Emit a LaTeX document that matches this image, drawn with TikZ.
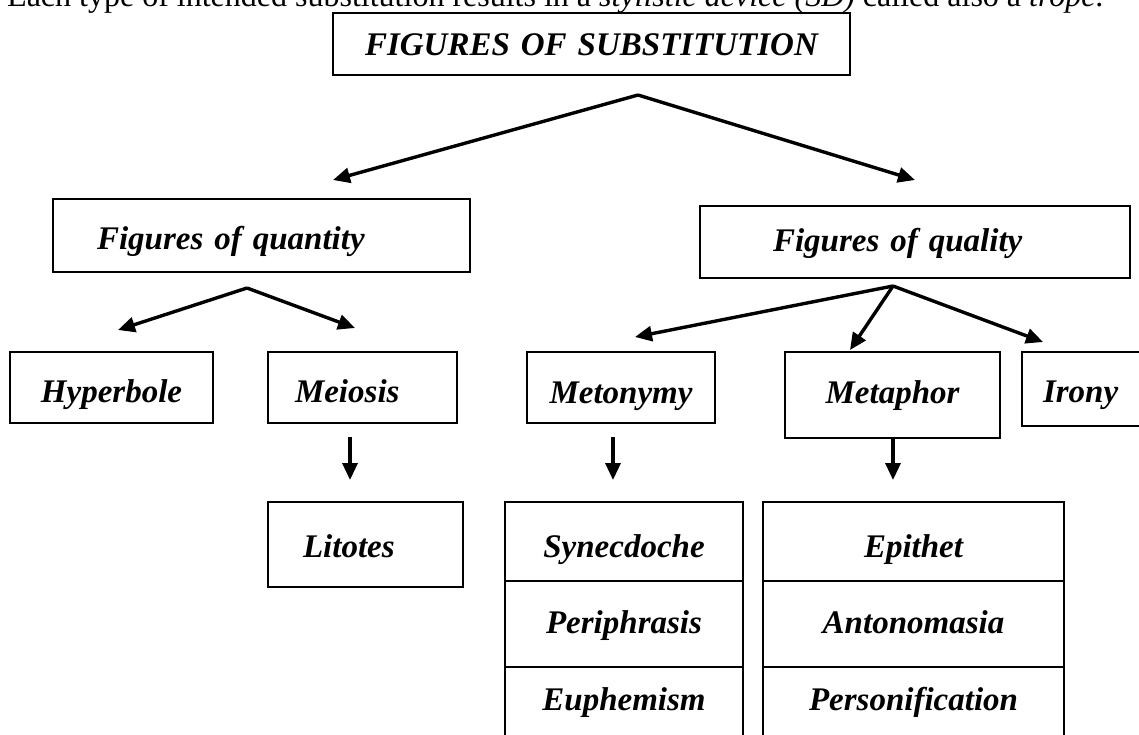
\documentclass[tikz,border=0pt]{standalone}
\usepackage{fontspec}
\setmainfont{Liberation Serif}
\usetikzlibrary{arrows.meta}

\tikzset{
  figbox/.style={draw, line width=2.4pt, inner ysep=0pt, text depth=0pt,
    font=\fontsize{33}{36}\selectfont\bfseries\itshape},
  stackcell/.style={figbox, line width=1.8pt, inner xsep=0pt, minimum width=#1, align=center},
  branch/.style={line width=3.4pt, -{Triangle[length=17pt,width=15pt]}},
}

\begin{document}
\begin{tikzpicture}[x=1pt,y=-1pt]
  \useasboundingbox (0,0) rectangle (1139,734);
  \clip (0,0) rectangle (1139,734);
  % sentence cut at the top of the page
  \node (intro) [anchor=base west, inner sep=0pt, font=\fontsize{32}{36}\selectfont] at (7,6)
    {Each type of intended substitution results in a \textit{stylistic device (SD)} called also a \textit{trope}.};

  \node (subst) [figbox, align=center, text width=497pt, inner xsep=10pt, minimum height=62, text height=22pt] at (591.5,44) {FIGURES OF SUBSTITUTION};
  \node (quant) [figbox, align=left, text width=329pt, inner xsep=44pt, minimum height=73, text height=28pt] at (261.5,235.5) {Figures of quantity};
  \node (qual) [figbox, align=left, text width=284pt, inner xsep=73pt, minimum height=72, text height=18pt] at (915,242) {Figures of quality};

  \node (hyper) [figbox, align=center, text width=193pt, inner xsep=5pt, minimum height=71, text height=29pt] at (111.5,387.5) {Hyperbole};
  \node (meio) [figbox, align=left, text width=135pt, inner xsep=27pt, minimum height=71, text height=29pt] at (362.5,387.5) {Meiosis};
  \node (lito) [figbox, align=left, text width=125pt, inner xsep=35pt, minimum height=85, text height=25pt] at (365.5,544.5) {Litotes};
  \node (meto) [figbox, align=center, text width=178pt, inner xsep=5pt, minimum height=71, text height=31pt] at (621,387.5) {Metonymy};
  \node (meta) [figbox, align=center, text width=205pt, inner xsep=5pt, minimum height=86, text height=16pt] at (892.5,395) {Metaphor};
  \node (irony) [figbox, align=left, text width=96pt, inner xsep=21pt, minimum height=74, text height=26pt] at (1091,389) {Irony};

  % the two open lists under metonymy and metaphor
  \foreach \r/\yy/\hh/\th/\a/\b in {1/541.5/79/31pt/Synecdoche/Epithet,
                                    2/624/86/18pt/Periphrasis/Antonomasia,
                                    3/706/78/8pt/Euphemism/Personification}{
    \node (metolist\r) [stackcell=238pt, minimum height=\hh, text height=\th] at (624,\yy) {\a};
    \node (metalist\r) [stackcell=301pt, minimum height=\hh, text height=\th] at (913.5,\yy) {\b};
  }

  % forks and arrow ends
  \coordinate (substfork) at (638,95);
  \coordinate (quantin) at (333,180);
  \coordinate (qualin) at (915,180);
  \coordinate (quantfork) at (247,288);
  \coordinate (hyperin) at (118,330);
  \coordinate (meioin) at (355,328);
  \coordinate (qualfork) at (893,286);
  \coordinate (metoin) at (635,337);
  \coordinate (metain) at (850,350);
  \coordinate (ironyin) at (1043,342);
  \coordinate (meioout) at (350,437);
  \coordinate (litoin) at (350,480);
  \coordinate (metoout) at (613,437);
  \coordinate (metolistin) at (613,480);
  \coordinate (metaout) at (893,438);
  \coordinate (metalistin) at (893,480);

  \draw [branch] (substfork) -- (quantin);
  \draw [branch] (substfork) -- (qualin);
  \draw [branch] (quantfork) -- (hyperin);
  \draw [branch] (quantfork) -- (meioin);
  \draw [branch] (qualfork) -- (metoin);
  \draw [branch] (qualfork) -- (metain);
  \draw [branch] (qualfork) -- (ironyin);
  \draw [branch] (meioout) -- (litoin);
  \draw [branch] (metoout) -- (metolistin);
  \draw [branch] (metaout) -- (metalistin);
\end{tikzpicture}
\end{document}
